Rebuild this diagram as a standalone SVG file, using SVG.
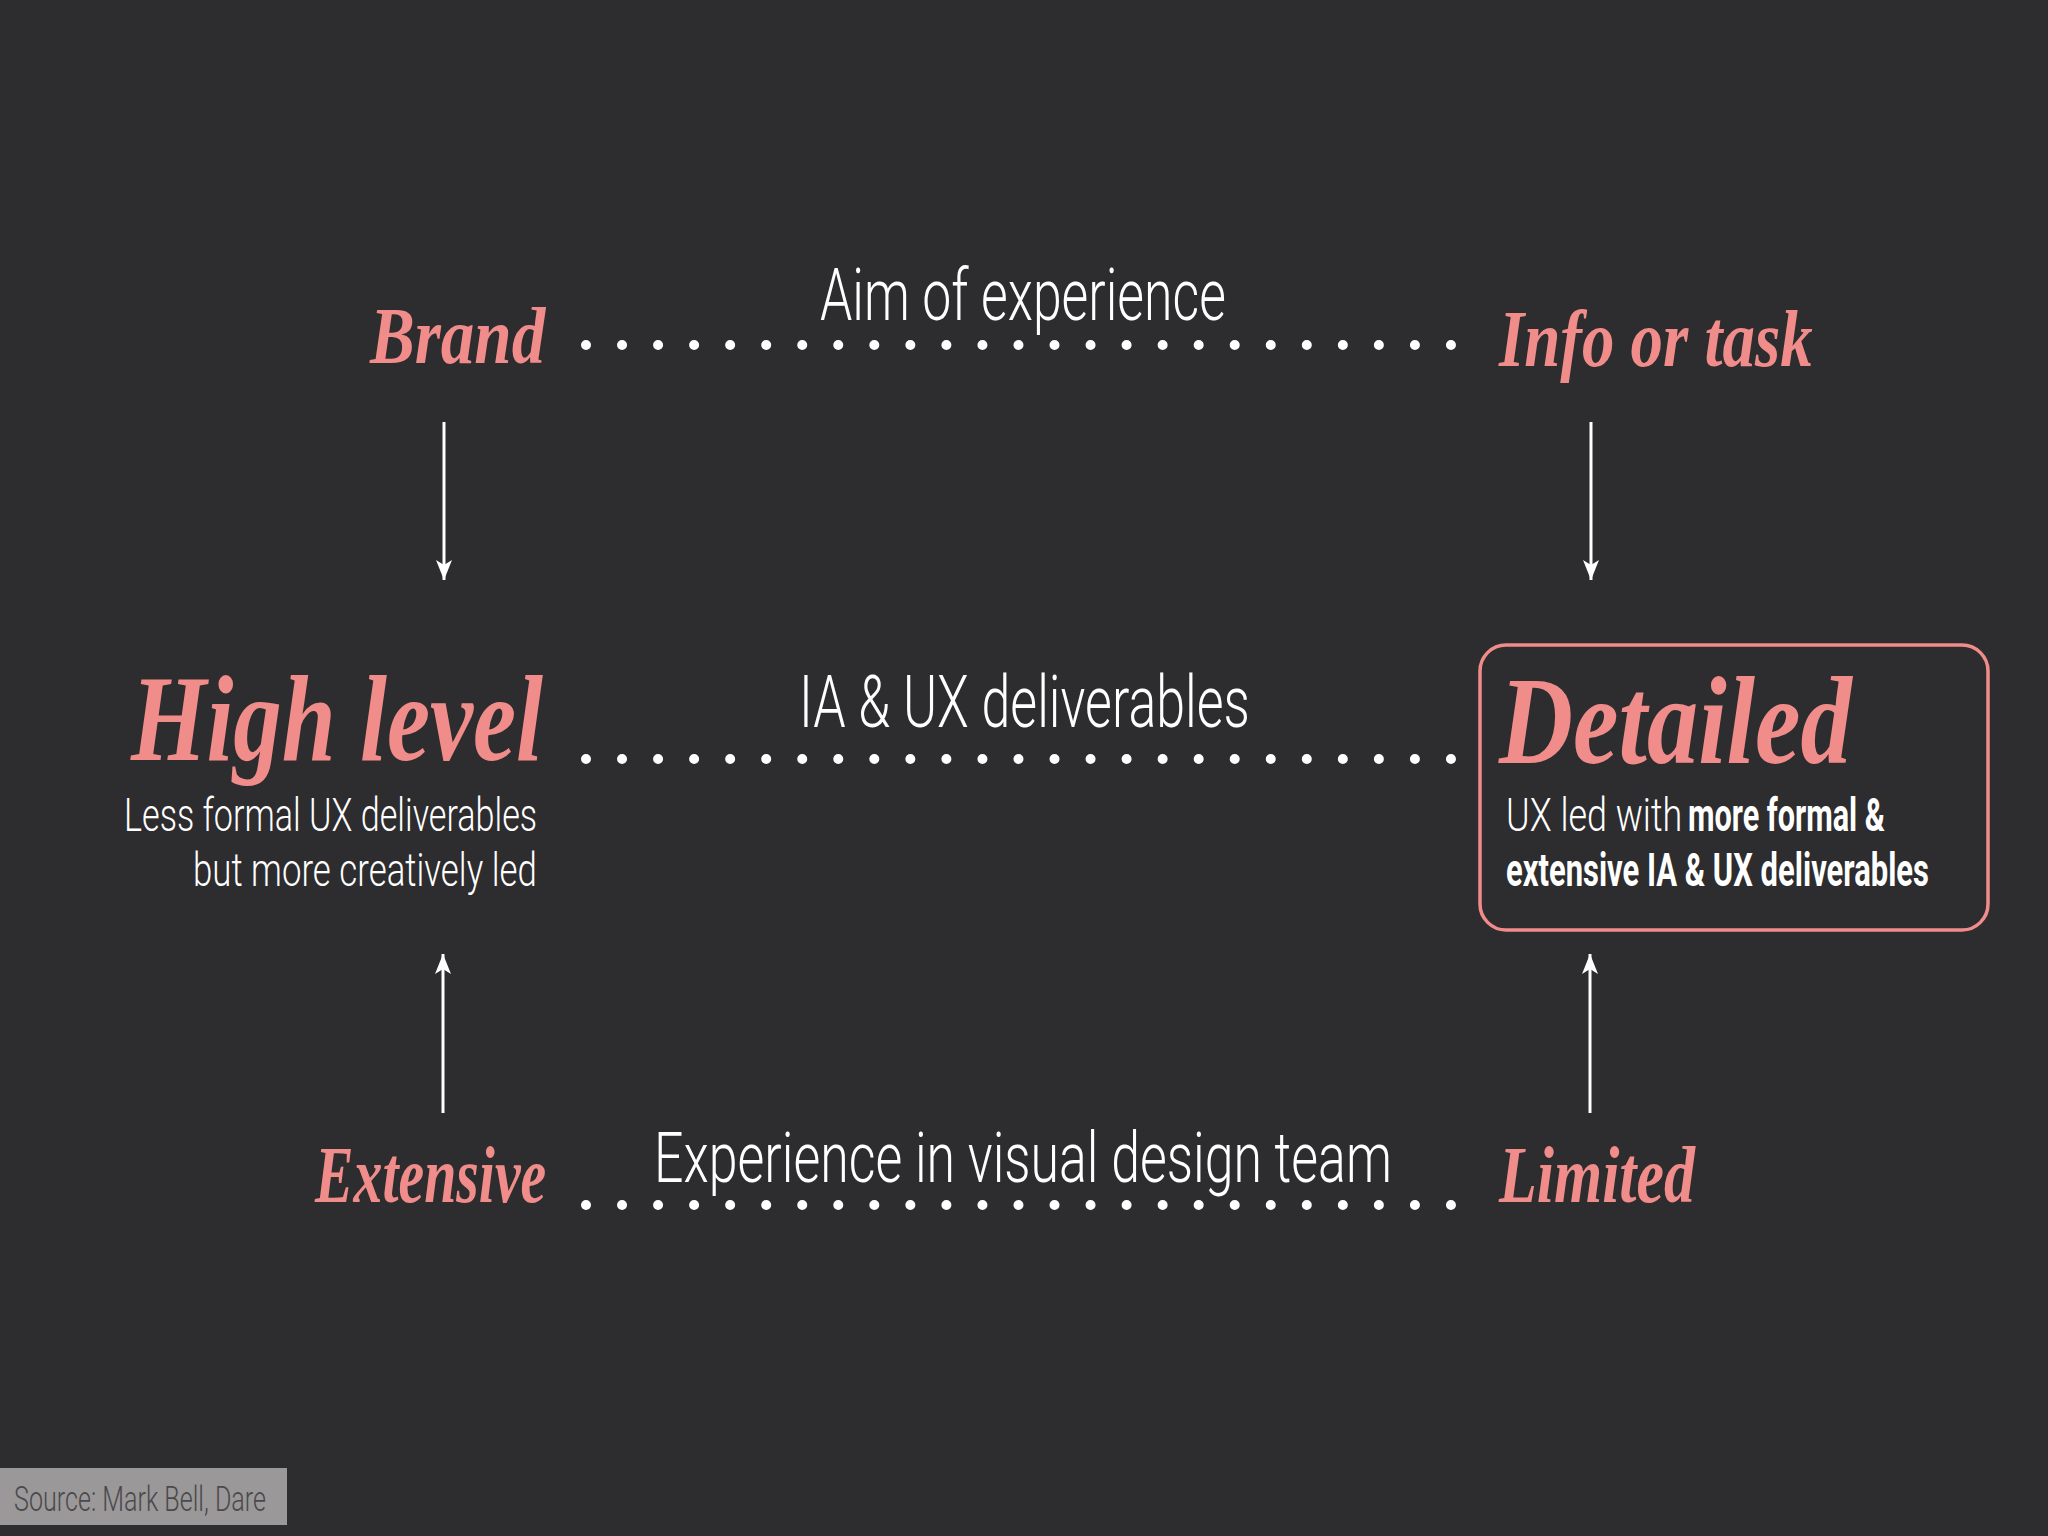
<svg xmlns="http://www.w3.org/2000/svg" width="2048" height="1536" viewBox="0 0 2048 1536">
<defs>
<style>
.script{font-family:"Liberation Serif","DejaVu Serif",serif;font-style:italic;font-weight:700;fill:#f08c8a;}
.thin{font-family:Roboto,"Liberation Sans",sans-serif;font-weight:300;fill:#ffffff;}
.bold{font-family:Roboto,"Liberation Sans",sans-serif;font-weight:700;fill:#ffffff;}
.dots{fill:none;stroke:#ffffff;stroke-width:10;stroke-linecap:round;stroke-dasharray:0 36.04;}
.arrow{stroke:#ffffff;stroke-width:3;fill:none;}
</style>
<marker id="ah" markerUnits="userSpaceOnUse" markerWidth="22" markerHeight="22" viewBox="0 0 22 22" refX="20" refY="11" orient="auto">
<path d="M0,3 L20,11 L0,19 L5,11 Z" fill="#ffffff"/>
</marker>
</defs>
<rect x="0" y="0" width="2048" height="1536" fill="#2d2c2e"/>

<g id="connectors">
<path id="dots-top" class="dots" d="M586,345 H1452"/>
<path id="dots-mid" class="dots" d="M586,759 H1452"/>
<path id="dots-bot" class="dots" d="M586,1205 H1452"/>
<line class="arrow" x1="444" y1="422" x2="444" y2="580" marker-end="url(#ah)"/>
<line class="arrow" x1="1591" y1="422" x2="1591" y2="580" marker-end="url(#ah)"/>
<line class="arrow" x1="443" y1="1113" x2="443" y2="954" marker-end="url(#ah)"/>
<line class="arrow" x1="1590" y1="1113" x2="1590" y2="954" marker-end="url(#ah)"/>
</g>

<g id="label-aim"><text class="thin" transform="translate(820,320) scale(0.66,1)" font-size="72" textLength="615" lengthAdjust="spacingAndGlyphs">Aim of experience</text></g>
<g id="label-ia"><text class="thin" transform="translate(799,727) scale(0.66,1)" font-size="72" textLength="683" lengthAdjust="spacingAndGlyphs">IA &amp; UX deliverables</text></g>
<g id="label-exp"><text class="thin" transform="translate(654,1182) scale(0.66,1)" font-size="70" textLength="1118" lengthAdjust="spacingAndGlyphs">Experience in visual design team</text></g>

<g id="node-brand"><text class="script" transform="translate(370,363) scale(0.8,1)" font-size="80" textLength="219" lengthAdjust="spacingAndGlyphs">Brand</text></g>
<g id="node-info"><text class="script" transform="translate(1499,366) scale(0.8,1)" font-size="80" textLength="392" lengthAdjust="spacingAndGlyphs">Info or task</text></g>

<g id="node-high">
<text class="script" transform="translate(131,760) scale(0.8,1)" font-size="122" textLength="515" lengthAdjust="spacingAndGlyphs">High level</text>
<text class="thin" transform="translate(124,831) scale(0.66,1)" font-size="46" textLength="626" lengthAdjust="spacingAndGlyphs">Less formal UX deliverables</text>
<text class="thin" transform="translate(193,886) scale(0.66,1)" font-size="46" textLength="521" lengthAdjust="spacingAndGlyphs">but more creatively led</text>
</g>

<g id="node-detailed">
<rect x="1480" y="645" width="508" height="285" rx="26" ry="26" fill="none" stroke="#f08c8a" stroke-width="3.5"/>
<text class="script" transform="translate(1499,763) scale(0.8,1)" font-size="124" textLength="441" lengthAdjust="spacingAndGlyphs">Detailed</text>
<text class="thin" transform="translate(1506,831) scale(0.66,1)" font-size="46" textLength="267" lengthAdjust="spacingAndGlyphs">UX led with</text>
<text class="bold" transform="translate(1688,831) scale(0.55,1)" font-size="46" textLength="358" lengthAdjust="spacingAndGlyphs">more formal &amp;</text>
<text class="bold" transform="translate(1506,886) scale(0.55,1)" font-size="46" textLength="769" lengthAdjust="spacingAndGlyphs">extensive IA &amp; UX deliverables</text>
</g>

<g id="node-extensive"><text class="script" transform="translate(315,1202) scale(0.8,1)" font-size="80" textLength="289" lengthAdjust="spacingAndGlyphs">Extensive</text></g>
<g id="node-limited"><text class="script" transform="translate(1499,1202) scale(0.8,1)" font-size="80" textLength="245" lengthAdjust="spacingAndGlyphs">Limited</text></g>

<g id="source">
<rect x="0" y="1468" width="287" height="57" fill="#9a9899"/>
<text transform="translate(14,1511) scale(0.63,1)" font-family="Roboto,'Liberation Sans',sans-serif" font-weight="300" font-size="36" fill="#4a494b" textLength="400" lengthAdjust="spacingAndGlyphs">Source: Mark Bell, Dare</text>
</g>
</svg>
